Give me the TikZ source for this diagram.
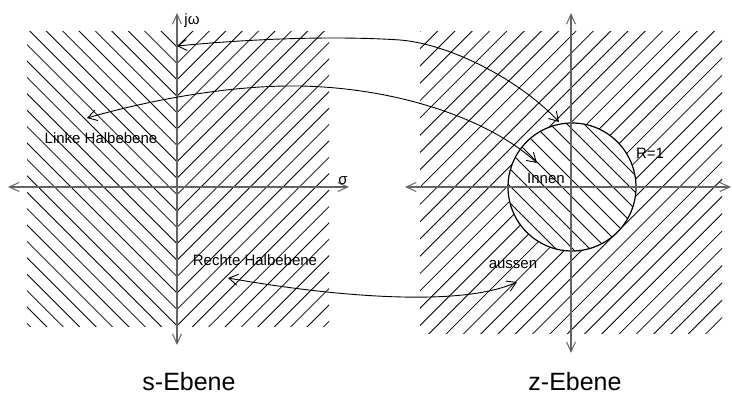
\documentclass[tikz,border=0pt]{standalone}
\usepackage{fontspec}
\setmainfont{Liberation Sans}
\usetikzlibrary{arrows.meta}
\definecolor{axisgray}{RGB}{100,100,100}
\begin{document}
\begin{tikzpicture}[x=1pt,y=-1pt,
  hatch/.style={line width=0.8pt, black},
  axis/.style={line width=1.4pt, draw=axisgray,
    {Straight Barb[length=10pt,width=9pt,line width=1pt]}-{Straight Barb[length=10pt,width=9pt,line width=1pt]}},
  maparrow/.style={line width=0.9pt, black,
    {Straight Barb[length=9pt,width=11pt]}-{Straight Barb[length=9pt,width=11pt]}},
  lbl/.style={font=\fontsize{15}{17}\selectfont, text=black, inner sep=0pt, anchor=base},
  big/.style={font=\fontsize{25}{28}\selectfont, text=black, inner sep=0pt, anchor=base}]
\useasboundingbox (0,0) rectangle (732,396);

% ---- s-plane hatching ----
\begin{scope}
  \clip (27,32) rectangle (177,326);
  \foreach \k in {-27,...,1} \draw[hatch] ({130+16.4*\k},0) -- ++(400,400);
\end{scope}
\begin{scope}
  \clip (177,32) rectangle (329,326);
  \foreach \k in {-2,...,27} \draw[hatch] ({224+16.4*\k},0) -- ++(-400,400);
\end{scope}

% ---- z-plane hatching ----
\begin{scope}
  \clip (420,32) rectangle (722,333);
  \foreach \k in {-2,...,35} \draw[hatch] ({468.7+17.3*\k},0) -- ++(-400,400);
\end{scope}
\coordinate (zc) at (572,187);
\fill[white] (zc) circle[radius=64pt];
\begin{scope}
  \clip (zc) circle[radius=64pt];
  \foreach \k in {-12,...,5} \draw[hatch] ({443+17*\k},0) -- ++(400,400);
\end{scope}
\draw[line width=1.2pt, black] (zc) circle[radius=64pt];

% ---- axes ----
\coordinate (sT) at (177,13);
\coordinate (sB) at (177,345);
\coordinate (sL) at (8,187);
\coordinate (sR) at (349,187);
\coordinate (zT) at (571,13);
\coordinate (zB) at (571,353);
\coordinate (zL) at (405,187);
\coordinate (zR) at (731,187);
\draw[axis] (sL) -- (sR);
\draw[axis] (sB) -- (sT);
\draw[axis] (zL) -- (zR);
\draw[axis] (zB) -- (zT);

% ---- mapping arrows ----
\coordinate (a1) at (177,46);
\coordinate (b1) at (559,122);
\coordinate (a2) at (87,118);
\coordinate (b2) at (537,163);
\coordinate (a3) at (228,278);
\coordinate (b3) at (517,282);
\draw[maparrow] (a1) .. controls (260,38) and (340,36) .. (400,40)
                     .. controls (450,44) and (520,80) .. (b1);
\draw[maparrow] (a2) .. controls (150,100) and (230,85) .. (300,86)
                     .. controls (400,88) and (490,120) .. (b2);
\draw[maparrow] (a3) .. controls (330,296) and (460,308) .. (b3);

% ---- labels ----
\node[lbl] (jw) at (192,25) {jω};
\node[lbl] (sigma) at (343,185) {σ};
\node[lbl] (linke) at (101,143) {Linke Halbebene};
\node[lbl] (rechte) at (255,265) {Rechte Halbebene};
\node[lbl] (innen) at (546,183) {Innen};
\node[lbl] (r1) at (650,158) {R=1};
\node[lbl] (aussen) at (513,268) {aussen};
\node[big] (sE) at (189,390) {s-Ebene};
\node[big] (zE) at (575,390) {z-Ebene};
\end{tikzpicture}
\end{document}
